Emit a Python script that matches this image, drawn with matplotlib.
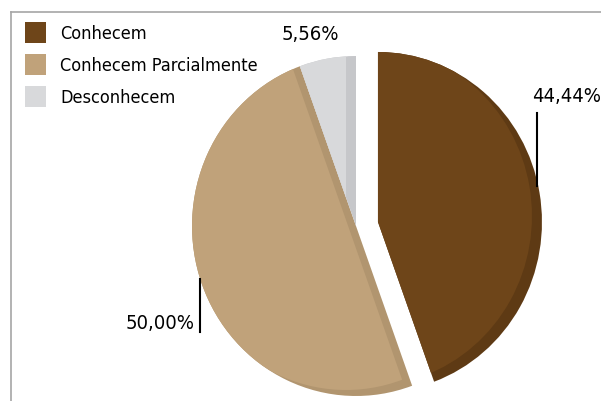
import matplotlib
matplotlib.use('Agg')
import matplotlib.pyplot as plt
from matplotlib.lines import Line2D

categorias = ['Conhecem', 'Conhecem Parcialmente', 'Desconhecem']
valores = [44.44, 50.00, 5.56]
rotulos = ['44,44%', '50,00%', '5,56%']
cores = ['#6E4519', '#C0A27A', '#D8D9DB']
cores_lado = ['#5E3A14', '#B1956F', '#C6C7CA']
explode = [0.136, 0, 0]

W, H = 601, 402
plt.rcParams['font.family'] = ['DejaVu Sans']
plt.rcParams['font.stretch'] = 'condensed'


def px(x, y):
    # pixel -> fracao da figura
    return x / W, 1 - y / H


fig = plt.figure(figsize=(6.01, 4.02), dpi=100)
ax = fig.add_axes([0, 0, 1, 1])

# silhueta escura (lado do efeito 3d)
lados, _ = ax.pie(valores, explode=explode, colors=cores_lado, startangle=90,
                  counterclock=False)
# face clara deslocada para cima/esquerda, recortada pela fatia
fatias, _ = ax.pie(valores, explode=explode, colors=cores, startangle=90,
                   counterclock=False, center=(-10 / 164, 6 / 170))
for f, l in zip(fatias, lados):
    f.set_clip_on(True)
    f.set_clip_path(l)
ax.set_aspect('auto')
ax.set_xlim(-356 / 164, (W - 356) / 164)
ax.set_ylim(-(H - 227) / 170, 227 / 170)
ax.axis('off')

# rotulos de porcentagem
pos_rotulos = [(532, 97, 'left'), (195, 324, 'right'), (310, 34, 'center')]
for txt, (x, y, ha) in zip(rotulos, pos_rotulos):
    fig.text(*px(x, y), txt, ha=ha, va='center', fontsize=14.5)
for (x0, y0), (x1, y1) in [((537, 114), (537, 187)), ((200, 280), (200, 333))]:
    fig.add_artist(Line2D([px(x0, y0)[0], px(x1, y1)[0]],
                          [px(x0, y0)[1], px(x1, y1)[1]],
                          color='black', lw=1.5, transform=fig.transFigure))

# borda
fig.add_artist(Line2D([px(11, 13)[0], 1], [px(11, 13)[1], px(11, 13)[1]],
                      color='#A6A6A6', lw=1.2, transform=fig.transFigure))
fig.add_artist(Line2D([px(11, 13)[0], px(11, 13)[0]], [px(11, 13)[1], 0],
                      color='#A6A6A6', lw=1.2, transform=fig.transFigure))

ax.legend(fatias, categorias, loc='upper left', bbox_to_anchor=px(25, 23),
          bbox_transform=fig.transFigure, frameon=False, fontsize=13,
          handlelength=1.16, handleheight=1.41, handletextpad=0.78,
          labelspacing=0.61, borderpad=0, borderaxespad=0)

fig.savefig('out.png', dpi=100)
